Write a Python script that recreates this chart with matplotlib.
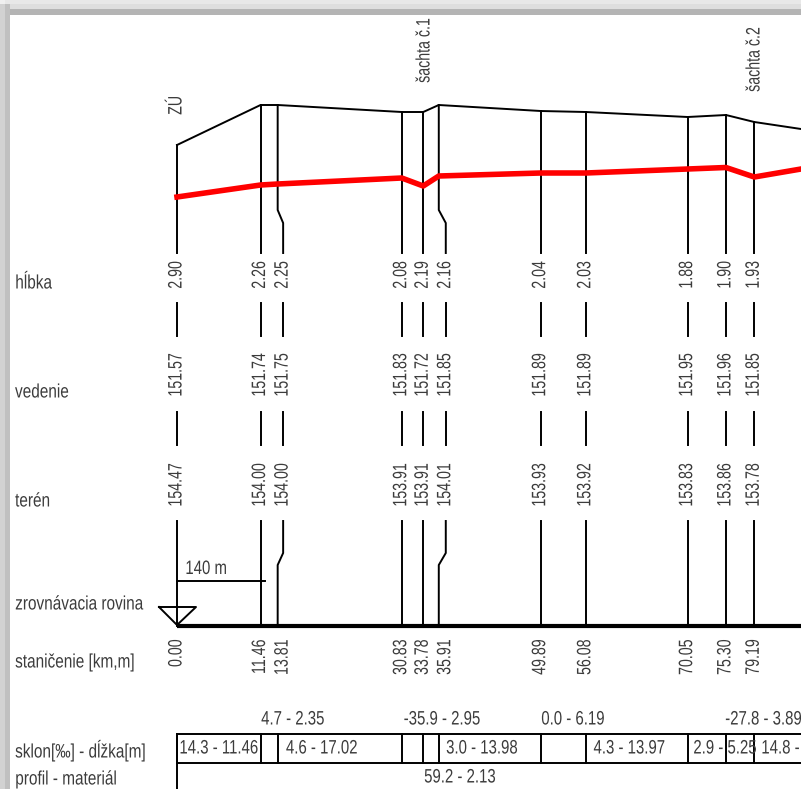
import matplotlib
matplotlib.use('Agg')
from matplotlib import pyplot as plt
from matplotlib.patches import Rectangle
from matplotlib.patheffects import AbstractPathEffect
from matplotlib.transforms import Affine2D

plt.rcParams['font.family'] = ['Liberation Sans', 'DejaVu Sans']

stations = [0.00, 11.46, 13.81, 30.83, 33.78, 35.91, 49.89, 56.08, 70.05, 75.30, 79.19]
station_labels = ['0.00', '11.46', '13.81', '30.83', '33.78', '35.91', '49.89', '56.08', '70.05', '75.30', '79.19']
hlbka = ['2.90', '2.26', '2.25', '2.08', '2.19', '2.16', '2.04', '2.03', '1.88', '1.90', '1.93']
vedenie = ['151.57', '151.74', '151.75', '151.83', '151.72', '151.85', '151.89', '151.89', '151.95', '151.96', '151.85']
teren = ['154.47', '154.00', '154.00', '153.91', '153.91', '154.01', '153.93', '153.92', '153.83', '153.86', '153.78']
# where the column of numbers sits, two of them are moved aside
label_stations = [0.00, 11.46, 14.56, 30.83, 33.78, 36.87, 49.89, 56.08, 70.05, 75.30, 79.19]

# drawn heights above the datum line, the last point runs off the picture
profile_x = stations + [85.6]
terrain_drawn = [481, 521, 521, 514, 514, 521, 515, 514, 509, 511, 504, 497]
pipe_drawn = [429, 441, 442, 448, 440, 450, 453, 453, 457, 458.5, 449, 457]

row_names = ['hĺbka', 'vedenie', 'terén', 'zrovnávacia rovina', 'staničenie [km,m]', 'sklon[‰] - dĺžka[m]', 'profil - materiál']
row_name_y = [284, 393, 502, 605, 663, 751, 780]

slope_labels = ['14.3 - 11.46', '4.6 - 17.02', '3.0 - 13.98', '4.3 - 13.97', '2.9 - 5.25']
slope_label_px = [219, 322, 482, 629.5, 725]
upper_labels = ['4.7 - 2.35', '-35.9 - 2.95', '0.0 - 6.19']
upper_label_px = [293, 442, 573]

PX_PER_KM = 7.29
X0 = 177
BASE = 626


def sx(px):
    return (px - X0) / PX_PER_KM


def h(py):
    return BASE - py


class Squeeze(AbstractPathEffect):
    # the drawing uses a condensed font that is not installed, so narrow the glyphs
    def __init__(self, factor, anchor='center'):
        super().__init__()
        self.factor = factor
        self.anchor = anchor

    def draw_path(self, renderer, gc, tpath, affine, rgbFace=None):
        ext = tpath.get_extents()
        pivot = {'start': ext.x0, 'center': (ext.x0 + ext.x1) / 2, 'end': ext.x1}[self.anchor]
        squeeze = Affine2D().translate(-pivot, 0).scale(self.factor, 1).translate(pivot, 0)
        renderer.draw_path(gc, tpath, squeeze + affine, rgbFace)


fig = plt.figure(figsize=(8.01, 7.89), dpi=100)
ax = fig.add_axes([0, 0, 1, 1])
ax.set_xlim(sx(0), sx(801))
ax.set_ylim(h(789), h(0))
ax.axis('off')

txt = '#3c3c3c'
lw = 1.4
FS = 14


def label(x, y, s, squeeze=0.77, anchor='center', **kw):
    t = ax.text(x, y, s, fontsize=FS, color=txt, **kw)
    t.set_path_effects([Squeeze(squeeze, anchor)])
    return t


def vlabel(x, y, s, anchor='start'):
    va = {'start': 'bottom', 'end': 'top'}[anchor]
    return label(x, y, s, 0.73, anchor, rotation=90, ha='center', va=va)


# long section
ax.plot(profile_x, terrain_drawn, color='black', lw=lw)
ax.plot(profile_x, pipe_drawn, color='#ff0000', lw=4, zorder=4)

for i, st in enumerate(stations):
    lx = label_stations[i]
    top = terrain_drawn[i]
    ax.plot([st, st, lx, lx], [top, h(210), h(223), h(253)], color='black', lw=lw)
    ax.plot([lx, lx], [h(303), h(336)], color='black', lw=lw)
    ax.plot([lx, lx], [h(412), h(445)], color='black', lw=lw)
    ax.plot([lx, lx, st, st], [h(521), h(553), h(565), h(BASE)], color='black', lw=lw)
    for vals, py in zip([hlbka, vedenie, teren], [289, 397, 507]):
        vlabel(lx, h(py), vals[i])
    vlabel(lx, h(639), station_labels[i], anchor='end')
    # slope table
    ax.plot([st, st], [h(734), h(763)], color='black', lw=lw)

ax.plot([0, sx(801)], [0, 0], color='black', lw=3, solid_capstyle='butt', zorder=5)

# datum symbol and scale note
ax.plot([sx(159), sx(196), 0, sx(159)], [h(607), h(607), h(625), h(607)], color='black', lw=lw)
ax.plot([0, sx(265)], [h(581), h(581)], color='black', lw=lw)
label(sx(185), h(574), '140 m', anchor='start', ha='left', va='baseline')

# table frame
ax.plot([0, sx(801)], [h(734), h(734)], color='black', lw=lw)
ax.plot([0, sx(801)], [h(763), h(763)], color='black', lw=lw)
ax.plot([0, 0], [h(734), h(789)], color='black', lw=lw)

for name, py in zip(row_names, row_name_y):
    label(sx(15), h(py), name, 0.79, 'start', ha='left', va='center')
for lab, px in zip(slope_labels, slope_label_px):
    label(sx(px), h(749), lab, ha='center', va='center')
label(sx(761), h(749), '14.8 -', anchor='start', ha='left', va='center')
for lab, px in zip(upper_labels, upper_label_px):
    label(sx(px), h(720), lab, ha='center', va='center')
label(sx(725), h(720), '-27.8 - 3.89', anchor='start', ha='left', va='center')
label(sx(460), h(778), '59.2 - 2.13', ha='center', va='center')

# manhole names
vlabel(0, h(115), 'ZÚ')
vlabel(sx(425), h(83), 'šachta č.1')
vlabel(sx(755), h(92), 'šachta č.2')


# grey picture border, top and left only
def band(x0, y0, x1, y1, col):
    ax.add_patch(Rectangle((sx(x0), h(y1)), sx(x1) - sx(x0), h(y0) - h(y1), facecolor=col, edgecolor='none', zorder=10))


band(0, 0, 801, 4, '#e8e8e8')
band(0, 4, 801, 9, '#dedede')
band(0, 9, 801, 15, '#b4b4b4')
band(0, 0, 5, 789, '#d2d2d2')
band(5, 4, 10, 789, '#c0c0c0')
band(0, 0, 5, 4, '#f0f0f0')

fig.savefig('out.png', dpi=100)
